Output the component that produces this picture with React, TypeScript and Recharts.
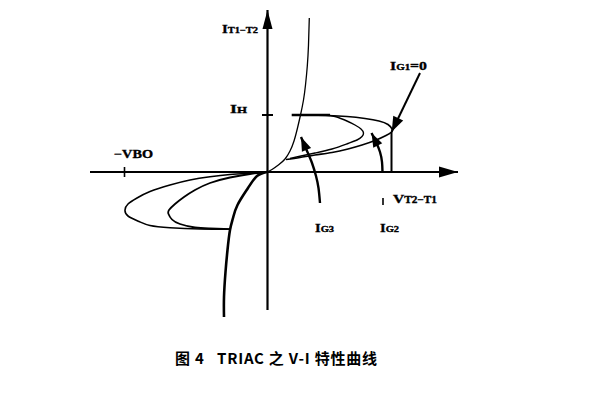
import React from 'react';
import { ComposedChart, Line, XAxis, YAxis, ReferenceDot } from 'recharts';

// Units: one unit = one pixel of the figure, origin at the axes crossing.
type P = { x: number; y: number };

const X_DOMAIN: [number, number] = [-267, 333];
const Y_DOMAIN: [number, number] = [-228, 172];

// axes
const xAxisLine: P[] = [{ x: -177, y: 0 }, { x: 191, y: 0 }];
const yAxisLine: P[] = [{ x: 0.5, y: -138 }, { x: 0.5, y: 162 }];

// ticks
const ihTick: P[] = [{ x: -5, y: 57 }, { x: 6, y: 57 }];
const vboTick: P[] = [{ x: -142.5, y: 5 }, { x: -142.5, y: -5 }];
const vMark: P[] = [{ x: 116, y: -26 }, { x: 116, y: -33 }];

// on-state characteristic (3rd quadrant, thick) and (1st quadrant, thin)
const onStateNeg: P[] = [
  { x: -43, y: -145 }, { x: -43, y: -125 }, { x: -41.5, y: -100 }, { x: -39.5, y: -78 },
  { x: -37, y: -58 }, { x: -34, y: -46 }, { x: -29.5, y: -33 }, { x: -19, y: -16 },
  { x: -10, y: -4 }, { x: 0, y: 0 },
];
const onStatePos: P[] = [
  { x: 0, y: 0 }, { x: 5, y: 2.5 }, { x: 12, y: 7.5 }, { x: 18, y: 13 }, { x: 23, y: 21 },
  { x: 27, y: 31 }, { x: 30.5, y: 44 }, { x: 33.5, y: 57 }, { x: 36.5, y: 72 },
  { x: 38.5, y: 87 }, { x: 40.3, y: 106 }, { x: 41.5, y: 127 }, { x: 42.3, y: 154 },
];

// holding current level
const holdLine: P[] = [{ x: 24.7, y: 57 }, { x: 63, y: 57 }];

// first quadrant loops
const loopPosOuter: P[] = [
  { x: 40, y: 57 }, { x: 61, y: 56.5 }, { x: 80, y: 55.5 }, { x: 98, y: 53.5 },
  { x: 112, y: 51 }, { x: 121, y: 47.5 }, { x: 125, y: 43 }, { x: 124.5, y: 40 },
  { x: 119, y: 36.5 }, { x: 108, y: 31.5 }, { x: 95, y: 27 }, { x: 81, y: 23 },
  { x: 65, y: 19.5 }, { x: 48, y: 17 }, { x: 33, y: 14.5 }, { x: 19, y: 12.5 },
];
const loopPosInner: P[] = [
  { x: 55, y: 57 }, { x: 68, y: 55.5 }, { x: 81, y: 50.5 }, { x: 88, y: 47 },
  { x: 94, y: 43 }, { x: 96.5, y: 39 }, { x: 95, y: 35.5 }, { x: 90, y: 32 },
  { x: 81, y: 28.5 }, { x: 65, y: 23 }, { x: 48, y: 19 }, { x: 34, y: 16 }, { x: 23, y: 13.5 },
];

// third quadrant loops
const loopNegOuter: P[] = [
  { x: -5, y: -0.5 }, { x: -17, y: -1.3 }, { x: -37, y: -2.5 }, { x: -57, y: -4.7 },
  { x: -77, y: -8 }, { x: -97, y: -13 }, { x: -117, y: -19.5 }, { x: -130, y: -26 },
  { x: -139, y: -32 }, { x: -142, y: -38 }, { x: -139, y: -44 }, { x: -128, y: -49.5 },
  { x: -117, y: -53.5 }, { x: -97, y: -55.7 }, { x: -67, y: -57 }, { x: -36, y: -57.3 },
];
const loopNegInner: P[] = [
  { x: -5, y: -0.5 }, { x: -17, y: -2 }, { x: -37, y: -5.5 }, { x: -57, y: -11 },
  { x: -72, y: -18 }, { x: -83, y: -25 }, { x: -92, y: -32 }, { x: -98, y: -38 },
  { x: -98.5, y: -42 }, { x: -95, y: -47.5 }, { x: -87, y: -52 }, { x: -72, y: -55.5 },
  { x: -57, y: -56.5 }, { x: -36, y: -57.2 },
];

// breakover marker and arrows
const breakoverLine: P[] = [{ x: 124.5, y: 0 }, { x: 124.5, y: 40 }];
const ig1Arrow: P[] = [{ x: 153, y: 99 }, { x: 124.7, y: 40.3 }];
const ig2Arrow: P[] = [
  { x: 115.5, y: 0 }, { x: 115, y: 10 }, { x: 113, y: 20 }, { x: 109, y: 30 }, { x: 104.5, y: 39 },
];
const ig3Arrow: P[] = [
  { x: 53, y: -31 }, { x: 51.5, y: -16 }, { x: 49, y: -4 }, { x: 45, y: 9 }, { x: 40, y: 21 }, { x: 34, y: 35 },
];

// texts
const yTitle = ['I', 'T1−T2'];
const xTitle = ['V', 'T2−T1'];
const ihText = ['I', 'H'];
const ig1Text = ['I', 'G1', '=0'];
const ig2Text = ['I', 'G2'];
const ig3Text = ['I', 'G3'];
const vboText = ['−VBO'];
const caption = '图 4   TRIAC 之 V-I 特性曲线';

const arrowDot = (data: P[], len: number, half: number) => (props: any) => {
  const { cx, cy, index } = props;
  if (index !== data.length - 1) return <g key={`d${index}`} />;
  const p = data[index - 1];
  const q = data[index];
  let dx = q.x - p.x;
  let dy = -(q.y - p.y);
  const m = Math.hypot(dx, dy) || 1;
  dx /= m;
  dy /= m;
  const bx = cx - dx * len;
  const by = cy - dy * len;
  const pts = `${cx},${cy} ${bx - dy * half},${by + dx * half} ${bx + dy * half},${by - dx * half}`;
  return <polygon key="tip" points={pts} fill="#000" stroke="none" />;
};

const SERIF = "'Liberation Serif', 'Times New Roman', serif";

const labelShape = (parts: string[], width: number, big = 12.5, small = 9) => (props: any) => {
  const { cx, cy } = props;
  return (
    <text
      x={cx}
      y={cy}
      fontFamily={SERIF}
      fontWeight="bold"
      fill="#000"
      stroke="#000"
      strokeWidth={0.35}
      textLength={width}
      lengthAdjust="spacingAndGlyphs"
    >
      {parts.map((t, i) => (
        <tspan key={i} fontSize={i === 1 ? small : big}>
          {t}
        </tspan>
      ))}
    </text>
  );
};

const captionShape = (props: any) => {
  const { cx, cy } = props;
  return (
    <text
      x={cx}
      y={cy}
      fontFamily="'Noto Sans CJK SC', sans-serif"
      fontWeight="bold"
      fontSize={15}
      fill="#000"
      style={{ whiteSpace: 'pre' }}
      textLength={202}
      lengthAdjust="spacing"
    >
      {caption}
    </text>
  );
};

const seg = (key: string, data: P[], w: number, type: any = 'linear', dot: any = false) => (
  <Line
    key={key}
    data={data}
    dataKey="y"
    type={type}
    stroke="#000"
    strokeWidth={w}
    dot={dot}
    activeDot={false}
    isAnimationActive={false}
    strokeLinecap="butt"
  />
);

export default function App() {
  return (
    <div style={{ position: 'absolute', left: 0, top: 0, width: 600, height: 400, background: '#fff' }}>
      <ComposedChart width={600} height={400} margin={{ top: 0, right: 0, bottom: 0, left: 0 }}>
        <XAxis type="number" dataKey="x" domain={X_DOMAIN} allowDataOverflow hide />
        <YAxis type="number" dataKey="y" domain={Y_DOMAIN} allowDataOverflow hide />
        {seg('xaxis', xAxisLine, 2.2, 'linear', arrowDot(xAxisLine, 19, 5.5))}
        {seg('yaxis', yAxisLine, 2.2, 'linear', arrowDot(yAxisLine, 19, 5))}
        {seg('ihTick', ihTick, 2)}
        {seg('vboTick', vboTick, 1.6)}
        {seg('vMark', vMark, 1.6)}
        {seg('onNeg', onStateNeg, 2.6, 'natural')}
        {seg('onPos', onStatePos, 1.3, 'natural')}
        {seg('loopNegOuter', loopNegOuter, 1.6, 'natural')}
        {seg('loopNegInner', loopNegInner, 1.8, 'natural')}
        {seg('loopPosOuter', loopPosOuter, 1.6, 'natural')}
        {seg('loopPosInner', loopPosInner, 1.4, 'natural')}
        {seg('hold', holdLine, 2.6)}
        {seg('breakover', breakoverLine, 2)}
        {seg('ig1', ig1Arrow, 2, 'linear', arrowDot(ig1Arrow, 15, 5.5))}
        {seg('ig2', ig2Arrow, 2.4, 'natural', arrowDot(ig2Arrow, 14, 5))}
        {seg('ig3', ig3Arrow, 2.4, 'natural', arrowDot(ig3Arrow, 14, 5))}
        <ReferenceDot x={-45} y={139.5} r={0} shape={labelShape(yTitle, 36, 12, 8.5)} />
        <ReferenceDot x={-37} y={59.5} r={0} shape={labelShape(ihText, 17)} />
        <ReferenceDot x={123} y={102} r={0} shape={labelShape(ig1Text, 37, 13, 9)} />
        <ReferenceDot x={-153} y={14.5} r={0} shape={labelShape(vboText, 39, 12, 12)} />
        <ReferenceDot x={126} y={-31} r={0} shape={labelShape(xTitle, 44, 13, 9.5)} />
        <ReferenceDot x={48} y={-60} r={0} shape={labelShape(ig3Text, 19)} />
        <ReferenceDot x={113} y={-60} r={0} shape={labelShape(ig2Text, 19)} />
        <ReferenceDot x={-92} y={-192} r={0} shape={captionShape} />
      </ComposedChart>
    </div>
  );
}
